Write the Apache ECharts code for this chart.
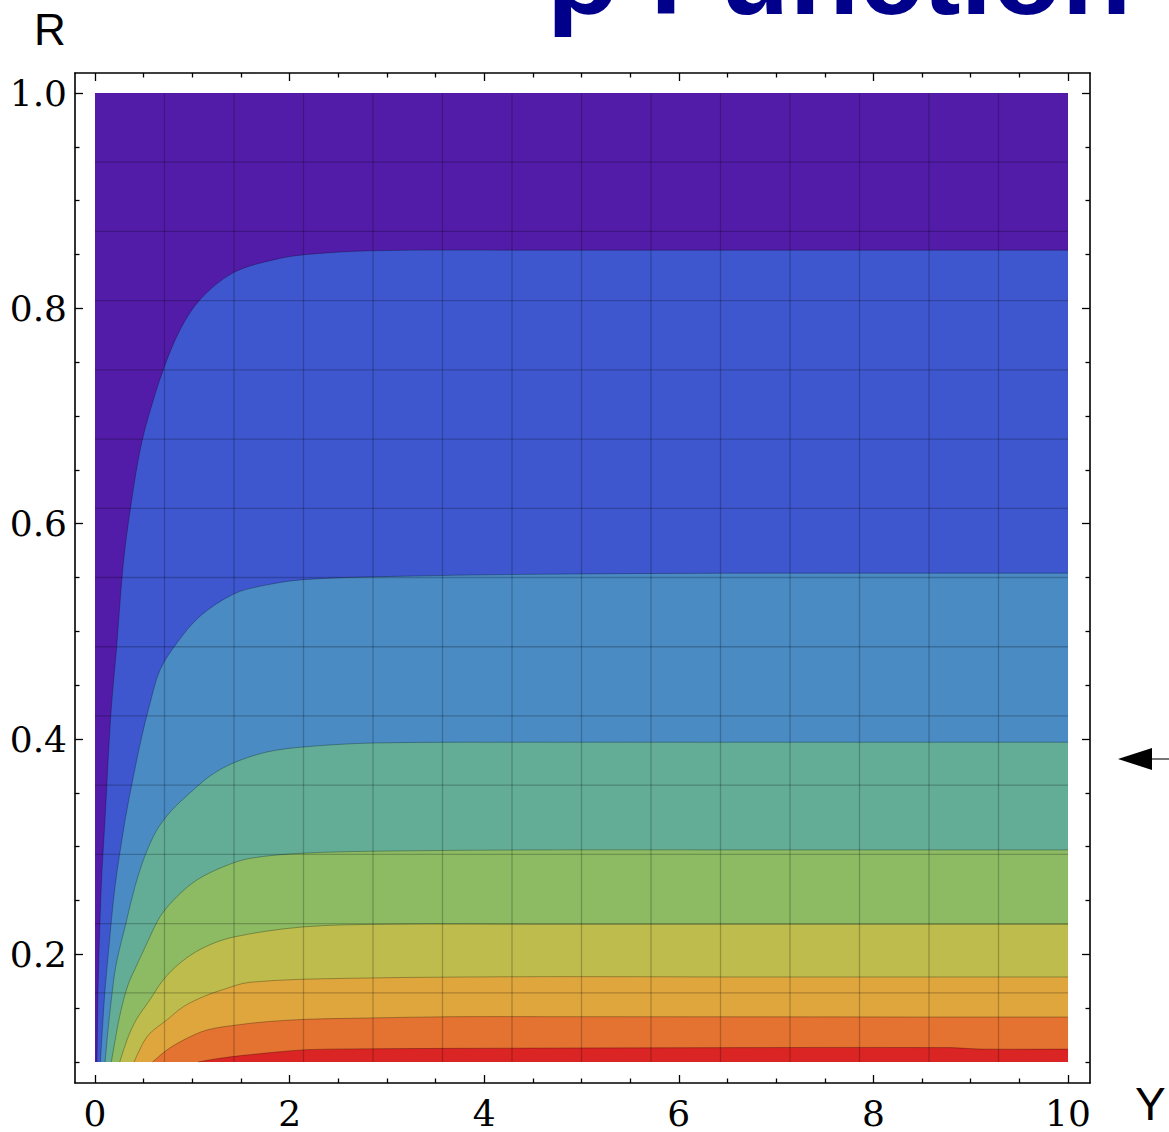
<!DOCTYPE html>
<html><head><meta charset="utf-8">
<script src="https://cdn.jsdelivr.net/npm/echarts@6/dist/echarts.min.js"></script>
<style>html,body{margin:0;padding:0;background:#fff}#c{width:1169px;height:1132px}</style>
</head><body><div id="c"></div>
<script>
// ---- texts ----
const titleText = 'ρ Function';
const xName = 'Y';
const yName = 'R';

// ---- axes ----
const xTickLabels = [0, 2, 4, 6, 8, 10];
const xMinorTicks = [0.5, 1, 1.5, 2.5, 3, 3.5, 4.5, 5, 5.5, 6.5, 7, 7.5, 8.5, 9, 9.5];
const yTickLabels = [0.2, 0.4, 0.6, 0.8, 1.0];
const yMinorTicks = [0.1, 0.15, 0.25, 0.3, 0.35, 0.45, 0.5, 0.55, 0.65, 0.7, 0.75, 0.85, 0.9, 0.95];
const dataYRange = [0, 10];
const dataRRange = [0.1, 1.0];
const meshDivisions = 14;

// ---- contour bands (top to bottom) ----
const bandColors = ['#521CA8', '#3E57CF', '#4A8BC4', '#63AD96', '#8CBB64', '#BDBC4C', '#DEA63C', '#E47230', '#DA2524'];

// contour boundaries: Y values and R values
const c1Y = [0.021, 0.026, 0.031, 0.051, 0.072, 0.103, 0.161, 0.223, 0.291, 0.377, 0.463, 0.548, 0.702, 0.874, 1.079, 1.421, 1.833, 2.176, 2.857, 4.5, 6.5, 8.5, 10];
const c1R = [0.100, 0.139, 0.167, 0.232, 0.278, 0.325, 0.421, 0.486, 0.563, 0.622, 0.668, 0.699, 0.743, 0.780, 0.808, 0.833, 0.845, 0.850, 0.8535, 0.854, 0.854, 0.854, 0.854];

const c2Y = [0.055, 0.082, 0.103, 0.137, 0.206, 0.310, 0.394, 0.480, 0.565, 0.668, 0.840, 1.079, 1.421, 1.730, 2.138, 3.030, 4.5, 6.5, 8.5, 10];
const c2R = [0.100, 0.139, 0.167, 0.201, 0.263, 0.325, 0.365, 0.402, 0.433, 0.464, 0.489, 0.514, 0.5345, 0.5425, 0.548, 0.551, 0.553, 0.554, 0.554, 0.554];

const c3Y = [0.103, 0.134, 0.168, 0.216, 0.326, 0.411, 0.514, 0.637, 0.791, 0.976, 1.182, 1.421, 1.765, 2.141, 2.857, 4.5, 6.5, 8.5, 10];
const c3R = [0.100, 0.130, 0.158, 0.190, 0.232, 0.263, 0.2916, 0.3157, 0.334, 0.3499, 0.3657, 0.3777, 0.3879, 0.3926, 0.3963, 0.397, 0.397, 0.397, 0.397];

const c4Y = [0.168, 0.216, 0.267, 0.339, 0.429, 0.532, 0.669, 0.841, 1.046, 1.320, 1.595, 2.143, 3.035, 4.5, 6.5, 8.5, 10];
const c4R = [0.100, 0.125, 0.148, 0.1715, 0.190, 0.210, 0.235, 0.2535, 0.269, 0.2814, 0.2892, 0.294, 0.296, 0.297, 0.297, 0.297, 0.297];

const c5Y = [0.254, 0.329, 0.422, 0.566, 0.699, 0.874, 1.110, 1.418, 2.138, 3.032, 4.5, 6.5, 8.5, 10];
const c5R = [0.100, 0.1205, 0.139, 0.158, 0.176, 0.192, 0.206, 0.216, 0.2255, 0.228, 0.228, 0.228, 0.228, 0.228];

const c6Y = [0.401, 0.483, 0.565, 0.737, 0.908, 1.113, 1.302, 1.593, 2.621, 4.676, 6.5, 8.5, 10];
const c6R = [0.100, 0.1159, 0.1267, 0.139, 0.1514, 0.1607, 0.1669, 0.1741, 0.1778, 0.1793, 0.179, 0.179, 0.179];

const c7Y = [0.591, 0.737, 0.908, 1.148, 1.456, 1.765, 2.176, 2.621, 3.649, 4.676, 6.5, 8.5, 10];
const c7R = [0.100, 0.1111, 0.1204, 0.1297, 0.1344, 0.1375, 0.1397, 0.1406, 0.1421, 0.1421, 0.1420, 0.1418, 0.1418];

const c8Y = [1.059, 1.251, 1.525, 1.868, 2.176, 2.621, 3.649, 4.676, 6.73, 8.79, 9.10, 10];
const c8R = [0.100, 0.1031, 0.1062, 0.1093, 0.1115, 0.1122, 0.1127, 0.1130, 0.1134, 0.1134, 0.1120, 0.1120];

const contourYs = [c1Y, c2Y, c3Y, c4Y, c5Y, c6Y, c7Y, c8Y];
const contourRs = [c1R, c2R, c3R, c4R, c5R, c6R, c7R, c8R];

// ---- layout ----
const X_MIN = -0.2055, X_MAX = 10.226;
const R_MIN_AX = 0.08053, R_MAX_AX = 1.01858;

const chart = echarts.init(document.getElementById('c'), null, {renderer: 'svg'});

const contourStroke = 'rgba(0,0,0,0.28)';
const meshStroke = 'rgba(0,0,0,0.22)';

// smooth path through pixel points (tangent-scaled cubic Bezier)
function smoothPathData(pts) {
  const n = pts.length;
  const tang = pts.map((p, i) => {
    const a = pts[Math.max(0, i - 1)], b = pts[Math.min(n - 1, i + 1)];
    const dx = b[0] - a[0], dy = b[1] - a[1];
    const l = Math.hypot(dx, dy) || 1;
    return [dx / l, dy / l];
  });
  const f = v => v.toFixed(2);
  let d = 'M' + f(pts[0][0]) + ',' + f(pts[0][1]);
  for (let i = 0; i < n - 1; i++) {
    const p1 = pts[i], p2 = pts[i + 1];
    const L = Math.hypot(p2[0] - p1[0], p2[1] - p1[1]) / 3;
    const c1 = [p1[0] + tang[i][0] * L, p1[1] + tang[i][1] * L];
    const c2 = [p2[0] - tang[i + 1][0] * L, p2[1] - tang[i + 1][1] * L];
    d += ' C' + f(c1[0]) + ',' + f(c1[1]) + ' ' + f(c2[0]) + ',' + f(c2[1]) + ' ' + f(p2[0]) + ',' + f(p2[1]);
  }
  return d;
}

const series = [];
// top band (whole data area)
series.push({
  type: 'custom', coordinateSystem: 'cartesian2d', xAxisIndex: 0, yAxisIndex: 0, silent: true,
  data: [[dataYRange[0], dataRRange[0]]],
  renderItem: (params, api) => {
    const pts = [
      api.coord([dataYRange[0], dataRRange[0]]),
      api.coord([dataYRange[0], dataRRange[1]]),
      api.coord([dataYRange[1], dataRRange[1]]),
      api.coord([dataYRange[1], dataRRange[0]])
    ];
    return {type: 'polygon', shape: {points: pts}, style: {fill: bandColors[0]}};
  }
});
contourYs.forEach((ys, k) => {
  const rs = contourRs[k];
  series.push({
    type: 'custom', coordinateSystem: 'cartesian2d', xAxisIndex: 0, yAxisIndex: 0, silent: true,
    data: [[ys[0], rs[0]]],
    renderItem: (params, api) => {
      const curve = ys.map((y, i) => api.coord([y, rs[i]]));
      const corner = api.coord([dataYRange[1], dataRRange[0]]);
      const dCurve = smoothPathData(curve);
      const dFill = dCurve + ' L' + corner[0].toFixed(2) + ',' + corner[1].toFixed(2) + ' Z';
      return {type: 'group', children: [
        {type: 'path', shape: {pathData: dFill}, style: {fill: bandColors[k + 1], stroke: null}},
        {type: 'path', shape: {pathData: dCurve}, style: {fill: null, stroke: contourStroke, lineWidth: 1}}
      ]};
    }
  });
});
// mesh lines
series.push({
  type: 'custom', coordinateSystem: 'cartesian2d', xAxisIndex: 0, yAxisIndex: 0, silent: true,
  data: [[0, 0.1]],
  renderItem: (params, api) => {
    const children = [];
    for (let i = 1; i < meshDivisions; i++) {
      const yv = dataYRange[0] + i * (dataYRange[1] - dataYRange[0]) / meshDivisions;
      const rv = dataRRange[0] + i * (dataRRange[1] - dataRRange[0]) / meshDivisions;
      const a = api.coord([yv, dataRRange[0]]), b = api.coord([yv, dataRRange[1]]);
      children.push({type: 'line', shape: {x1: a[0], y1: a[1], x2: b[0], y2: b[1]}, style: {stroke: meshStroke, lineWidth: 1.3}});
      const c = api.coord([dataYRange[0], rv]), d = api.coord([dataYRange[1], rv]);
      children.push({type: 'line', shape: {x1: c[0], y1: c[1], x2: d[0], y2: d[1]}, style: {stroke: meshStroke, lineWidth: 1.3}});
    }
    return {type: 'group', children};
  }
});

const labelFont = {fontFamily: 'DejaVu Serif', fontSize: 36, color: '#000'};
const lineSt = {color: '#000', width: 1.6};
const tickSt = {color: '#000', width: 1.3};
function xAx(pos, ticks, len, withLine, withLabel) {
  return {
    type: 'value', gridIndex: 0, position: pos, min: X_MIN, max: X_MAX,
    splitLine: {show: false},
    axisLine: {show: withLine, onZero: false, lineStyle: lineSt},
    axisTick: {show: true, inside: true, length: len, customValues: ticks, lineStyle: tickSt},
    axisLabel: withLabel ? Object.assign({show: true, customValues: ticks, margin: 12, formatter: v => String(Math.round(v))}, labelFont) : {show: false}
  };
}
function yAx(pos, ticks, len, withLine, withLabel) {
  return {
    type: 'value', gridIndex: 0, position: pos, min: R_MIN_AX, max: R_MAX_AX,
    splitLine: {show: false},
    axisLine: {show: withLine, onZero: false, lineStyle: lineSt},
    axisTick: {show: true, inside: true, length: len, customValues: ticks, lineStyle: tickSt},
    axisLabel: withLabel ? Object.assign({show: true, customValues: ticks, margin: 8, formatter: v => v.toFixed(1)}, labelFont) : {show: false}
  };
}

chart.setOption({
  animation: false,
  backgroundColor: '#ffffff',
  grid: {left: 75, top: 73, width: 1015, height: 1010, containLabel: false, outerBoundsMode: 'none'},
  xAxis: [
    xAx('bottom', xTickLabels, 8, true, true),
    xAx('bottom', xMinorTicks, 4.5, false, false),
    xAx('top', xTickLabels, 8, true, false),
    xAx('top', xMinorTicks, 4.5, false, false)
  ],
  yAxis: [
    yAx('left', yTickLabels, 8, true, true),
    yAx('left', yMinorTicks, 4.5, false, false),
    yAx('right', yTickLabels, 8, true, false),
    yAx('right', yMinorTicks, 4.5, false, false)
  ],
  series: series,
  graphic: [
    {type: 'text', x: 548, y: -26, style: {text: titleText, font: 'bold 114px "Liberation Sans", Arial, sans-serif', fill: '#00008B', verticalAlign: 'middle', align: 'left'}},
    {type: 'text', x: 50, y: 29, style: {text: yName, font: '44px "Liberation Sans", Arial, sans-serif', fill: '#000', verticalAlign: 'middle', align: 'center'}},
    {type: 'text', x: 1135, y: 1104, style: {text: xName, font: '46px "Liberation Sans", Arial, sans-serif', fill: '#000', verticalAlign: 'middle', align: 'left'}},
    {type: 'polygon', shape: {points: [[1118, 759], [1152, 748], [1152, 770]]}, style: {fill: '#000'}},
    {type: 'line', shape: {x1: 1152, y1: 759, x2: 1169, y2: 759}, style: {stroke: '#777', lineWidth: 2}}
  ]
});
</script>
</body></html>
